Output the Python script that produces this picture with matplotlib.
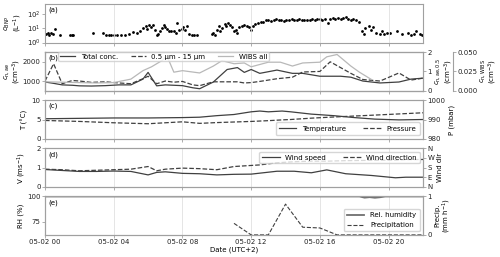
import matplotlib
matplotlib.use("Agg")
import matplotlib.pyplot as plt
import matplotlib.dates as mdates
import pandas as pd

# dados (horas desde 05-02 00:00)
t_bnp = [0.05, 0.15, 0.25, 0.35, 0.45, 0.6, 0.9, 1.45, 1.55, 1.65, 2.8, 3.4, 3.55, 3.7, 3.85,
         4.0, 4.2, 4.4, 4.65, 4.9, 5.1, 5.35, 5.55, 5.7, 5.85, 5.95, 6.05, 6.15, 6.3, 6.4,
         6.5, 6.6, 6.7, 6.8, 6.9, 7.0, 7.1, 7.2, 7.35, 7.5, 7.6, 7.7, 7.8, 7.95, 8.05,
         8.15, 8.25, 8.4, 8.55, 8.7, 8.85, 9.7, 9.8, 9.9, 10.0, 10.1, 10.2, 10.3, 10.45,
         10.55, 10.65, 10.75, 10.9, 11.0, 11.1, 11.2, 11.3, 11.45, 11.6, 11.75, 11.85,
         12.0, 12.1, 12.25, 12.4, 12.55, 12.7, 12.85, 13.0, 13.15, 13.3, 13.45, 13.6,
         13.75, 13.9, 14.05, 14.2, 14.35, 14.5, 14.65, 14.8, 14.95, 15.1, 15.25, 15.4,
         15.55, 15.7, 15.85, 16.0, 16.15, 16.3, 16.45, 16.6, 16.75, 16.9, 17.05, 17.2,
         17.35, 17.5, 17.65, 17.8, 17.95, 18.1, 18.25, 18.45, 18.55, 18.65, 18.85, 18.95,
         19.1, 19.25, 19.5, 19.6, 19.75, 19.9, 20.1, 20.5, 20.8, 21.1, 21.3, 21.45, 21.6, 21.8, 21.95]
c_bnp = [4, 5, 3.5, 5, 3.8, 9, 3.5, 3.5, 3.3, 3.4, 5, 4.5, 3.5, 3.4, 3.4,
         3.3, 3.4, 3.4, 3.5, 4, 5.5, 5, 7, 10, 14, 9, 17, 12, 18, 8,
         3.5, 4, 6, 11, 18, 13, 9, 7, 6, 6.5, 5, 22, 8, 9, 12,
         8, 14, 4, 3.5, 3.5, 3.5, 4, 5, 3.5, 8, 15, 6, 10, 20,
         14, 25, 18, 13, 6, 8, 5, 12, 15, 18, 14, 12,
         8, 14, 20, 25, 30, 28, 36, 40, 34, 38, 42, 36,
         39, 35, 40, 38, 42, 37, 40, 43, 38, 41, 36, 40,
         44, 39, 42, 45, 40, 48, 25, 44, 50, 42, 55, 46,
         52, 60, 48, 38, 45, 36, 30, 7, 4, 10, 15, 8,
         12, 5, 4, 6, 4, 5, 4.5, 6, 4, 5, 3.5, 4, 6, 4, 3.5]

t_b = [0, 0.5, 1, 1.6, 2, 2.7, 3.5, 4.3, 5, 5.7, 6, 6.5, 7, 7.5, 8, 8.6, 9, 9.8, 10.6,
       11.2, 11.6, 12, 12.5, 13.5, 14.4, 15, 16, 16.6, 17.2, 17.8, 18.5, 19.5, 20.6, 21.3, 22]
total_conc = [950, 880, 800, 780, 750, 740, 760, 800, 800, 1100, 1450, 750, 800, 780, 760,
              650, 600, 950, 1600, 1700, 1450, 1600, 1400, 1570, 1400, 1400, 1250, 1250,
              1250, 1200, 1000, 900, 950, 1100, 1150]
conc_05 = [0.5, 1.4, 0.36, 0.53, 0.5, 0.43, 0.46, 0.4, 0.36, 0.62, 0.75, 0.36, 0.5, 0.44,
           0.48, 0.3, 0.26, 0.46, 0.46, 0.46, 0.4, 0.42, 0.48, 0.62, 0.7, 0.97, 1.0, 1.5,
           1.2, 0.9, 0.58, 0.5, 0.92, 0.55, 0.65]
t_wibs = [0, 1, 2, 3, 4, 5, 5.7, 6.2, 6.8, 7.1, 7.5, 8, 9, 9.8, 10.3, 11, 11.6, 12, 13,
          13.7, 14.4, 15, 16, 16.4, 17, 17.8, 18.3, 19]
conc_wibs = [0.0115, 0.011, 0.0105, 0.01, 0.0105, 0.015, 0.026, 0.031, 0.039, 0.045, 0.024,
             0.026, 0.023, 0.032, 0.039, 0.035, 0.036, 0.031, 0.037, 0.037, 0.032, 0.036,
             0.037, 0.044, 0.047, 0.032, 0.024, 0.0145]

t_met = [0, 2, 4, 6, 8, 9, 10, 11, 12, 12.5, 13, 13.8, 14.3, 15.5, 16.8, 18, 19.2, 20.6, 22]
temperatura = [5.2, 5.3, 5.4, 5.4, 5.5, 5.6, 6.0, 6.3, 7.0, 7.2, 7.0, 7.2, 7.0, 6.4, 6.0,
               5.5, 5.1, 4.9, 5.0]
pressao = [989.5, 989.0, 988.3, 987.8, 988.8, 988.0, 988.4, 988.7, 989.0, 989.2, 989.4,
           989.8, 990.0, 990.7, 991.3, 991.8, 992.3, 992.9, 993.5]

t_vento = [0, 1, 2, 3, 4, 5, 6, 6.5, 7, 8, 9, 10, 11, 12, 12.5, 13.5, 14.5, 15.5, 16.4,
           17.5, 19, 20.4, 21, 22]
vel_vento = [0.9, 0.85, 0.8, 0.8, 0.82, 0.8, 0.62, 0.75, 0.78, 0.7, 0.68, 0.62, 0.65, 0.66,
             0.71, 0.81, 0.81, 0.73, 0.88, 0.68, 0.59, 0.47, 0.5, 0.5]
dir_vento = [165, 160, 150, 155, 160, 165, 190, 150, 165, 175, 170, 160, 190, 200, 205, 225,
             235, 240, 240, 245, 248, 250, 255, 256]

t_rh = [0, 4, 8, 12, 16, 18.3, 18.6, 18.9, 19.2, 19.5, 19.8, 22]
rh = [100, 100, 100, 100, 100, 100, 98.8, 99.3, 98.7, 99.2, 100, 100]
t_prec = [11, 12, 13, 14, 15, 16, 17, 18, 19, 20, 21, 22]
precip = [0.3, 0.0, 0.0, 0.8, 0.2, 0.18, 0.0, 0.0, 0.0, 0.0, 0.0, 0.0]


def horas(h):
    return pd.Timestamp("2021-05-02") + pd.to_timedelta(h, unit="h")


fs = 5
plt.rcParams["font.size"] = fs
plt.rcParams["font.family"] = "DejaVu Sans"
cor_linha = "#404040"
cor_eixo = "#a0a0a0"

fig, axs = plt.subplots(5, 1, figsize=(5, 2.57), dpi=100, sharex=True)
fig.subplots_adjust(left=0.09, right=0.846, top=0.984, bottom=0.086, hspace=0.25)


def estilo(ax):
    for s in ax.spines.values():
        s.set_color(cor_eixo)
    ax.tick_params(colors=cor_eixo, labelcolor="#222222", length=2, width=0.6, pad=1.2)


for ax in axs:
    estilo(ax)
    ax.grid(axis="x", color="#e0e0e0", lw=0.6)

# (a) BNP
ax = axs[0]
ax.scatter(horas(t_bnp), c_bnp, s=4, color="k", lw=0)
ax.set_yscale("log")
ax.set_ylim(1, 500)
ax.set_yticks([1, 10, 100])
ax.minorticks_off()
ax.set_ylabel("$c_{\\mathrm{BNP}}$\n(L$^{-1}$)", linespacing=1.0)
ax.text(0.01, 0.93, "(a)", transform=ax.transAxes, va="top")

# (b) concentracoes
ax = axs[1]
l1, = ax.plot(horas(t_b), total_conc, color=cor_linha, lw=0.9, label="Total conc.")
ax.set_ylim(500, 2500)
ax.set_yticks([1000, 2000])
ax.set_ylabel("$c_{\\mathrm{n,ae}}$\n(cm$^{-3}$)", linespacing=1.0)
ax2 = ax.twinx()
estilo(ax2)
l2, = ax2.plot(horas(t_b), conc_05, color=cor_linha, lw=0.9, ls="--", label="0.5 µm - 15 µm")
ax2.set_ylim(0, 2)
ax2.set_yticks([0, 1, 2])
ax2.set_ylabel("$c_{\\mathrm{n,ae,0.5}}$\n(cm$^{-3}$)", labelpad=1, linespacing=1.0)
ax3 = ax.twinx()
estilo(ax3)
ax3.spines["right"].set_position(("axes", 1.08))
l3, = ax3.plot(horas(t_wibs), conc_wibs, color="#b8b8b8", lw=0.9, label="WIBS all")
ax3.set_ylim(0, 0.05)
ax3.set_yticks([0, 0.025, 0.05])
ax3.set_yticklabels(["0.000", "0.025", "0.050"])
ax3.set_ylabel("$c_{\\mathrm{n,WIBS}}$\n(cm$^{-3}$)", labelpad=0, linespacing=1.0)
ax3.legend(handles=[l1, l2, l3], loc="upper left", bbox_to_anchor=(0.035, 1.01), ncol=3,
           fontsize=fs, frameon=True, borderpad=0.25, handlelength=2.2, columnspacing=1.8,
           borderaxespad=0.0)
ax.text(0.01, 0.93, "(b)", transform=ax.transAxes, va="top")

# (c) temperatura e pressao
ax = axs[2]
l1, = ax.plot(horas(t_met), temperatura, color=cor_linha, lw=0.9, label="Temperature")
ax.set_ylim(0, 10)
ax.set_yticks([0, 5, 10])
ax.set_ylabel("T (°C)")
ax2 = ax.twinx()
estilo(ax2)
l2, = ax2.plot(horas(t_met), pressao, color=cor_linha, lw=0.9, ls="--", label="Pressure")
ax2.set_ylim(980, 1000)
ax2.set_yticks([980, 990, 1000])
ax2.set_ylabel("P (mbar)", labelpad=2)
ax2.legend(handles=[l1, l2], loc="lower right", ncol=2, fontsize=fs, borderpad=0.5,
           handlelength=2.5, columnspacing=2.5)
ax.text(0.01, 0.93, "(c)", transform=ax.transAxes, va="top")

# (d) vento
ax = axs[3]
l1, = ax.plot(horas(t_vento), vel_vento, color=cor_linha, lw=0.9, label="Wind speed")
ax.set_ylim(0, 2)
ax.set_yticks([0, 1, 2])
ax.set_ylabel("V (ms$^{-1}$)")
ax2 = ax.twinx()
estilo(ax2)
l2, = ax2.plot(horas(t_vento), dir_vento, color=cor_linha, lw=0.9, ls="--", label="Wind direction")
ax2.set_ylim(0, 360)
ax2.set_yticks([0, 90, 180, 270, 360])
ax2.set_yticklabels(["N", "E", "S", "W", "N"])
ax2.set_ylabel("Wind dir", labelpad=2)
ax2.legend(handles=[l1, l2], loc="upper right", ncol=2, fontsize=fs, borderpad=0.4,
           handlelength=2.5, columnspacing=2.5)
ax.text(0.01, 0.93, "(d)", transform=ax.transAxes, va="top")

# (e) umidade e precipitacao
ax = axs[4]
l1, = ax.plot(horas(t_rh), rh, color="#707070", lw=1.3, label="Rel. humidity")
ax.set_ylim(62, 100)
ax.set_yticks([75, 100])
ax.set_ylabel("RH (%)")
ax2 = ax.twinx()
estilo(ax2)
l2, = ax2.plot(horas(t_prec), precip, color=cor_linha, lw=0.8, ls="--", label="Precipitation")
ax2.set_ylim(0, 1)
ax2.set_yticks([0, 1])
ax2.set_ylabel("Precip.\n(mm h$^{-1}$)", labelpad=2, linespacing=1.0)
ax2.legend(handles=[l1, l2], loc="lower right", fontsize=fs, borderpad=0.5, handlelength=2.5)
ax.text(0.01, 0.93, "(e)", transform=ax.transAxes, va="top")

ax.set_xlim(horas(0), horas(22))
ax.xaxis.set_major_locator(mdates.HourLocator(byhour=[0, 4, 8, 12, 16, 20]))
ax.xaxis.set_major_formatter(mdates.DateFormatter("%m-%d %H"))
ax.set_xlabel("Date (UTC+2)", labelpad=1)

# posicao dos rotulos do eixo y (fracao do eixo)
pos_rotulo = [-0.055, -0.058, -0.045, -0.045, -0.055]
for ax, px in zip(axs, pos_rotulo):
    ax.yaxis.set_label_coords(px, 0.5)

fig.savefig("out.png", dpi=100)
